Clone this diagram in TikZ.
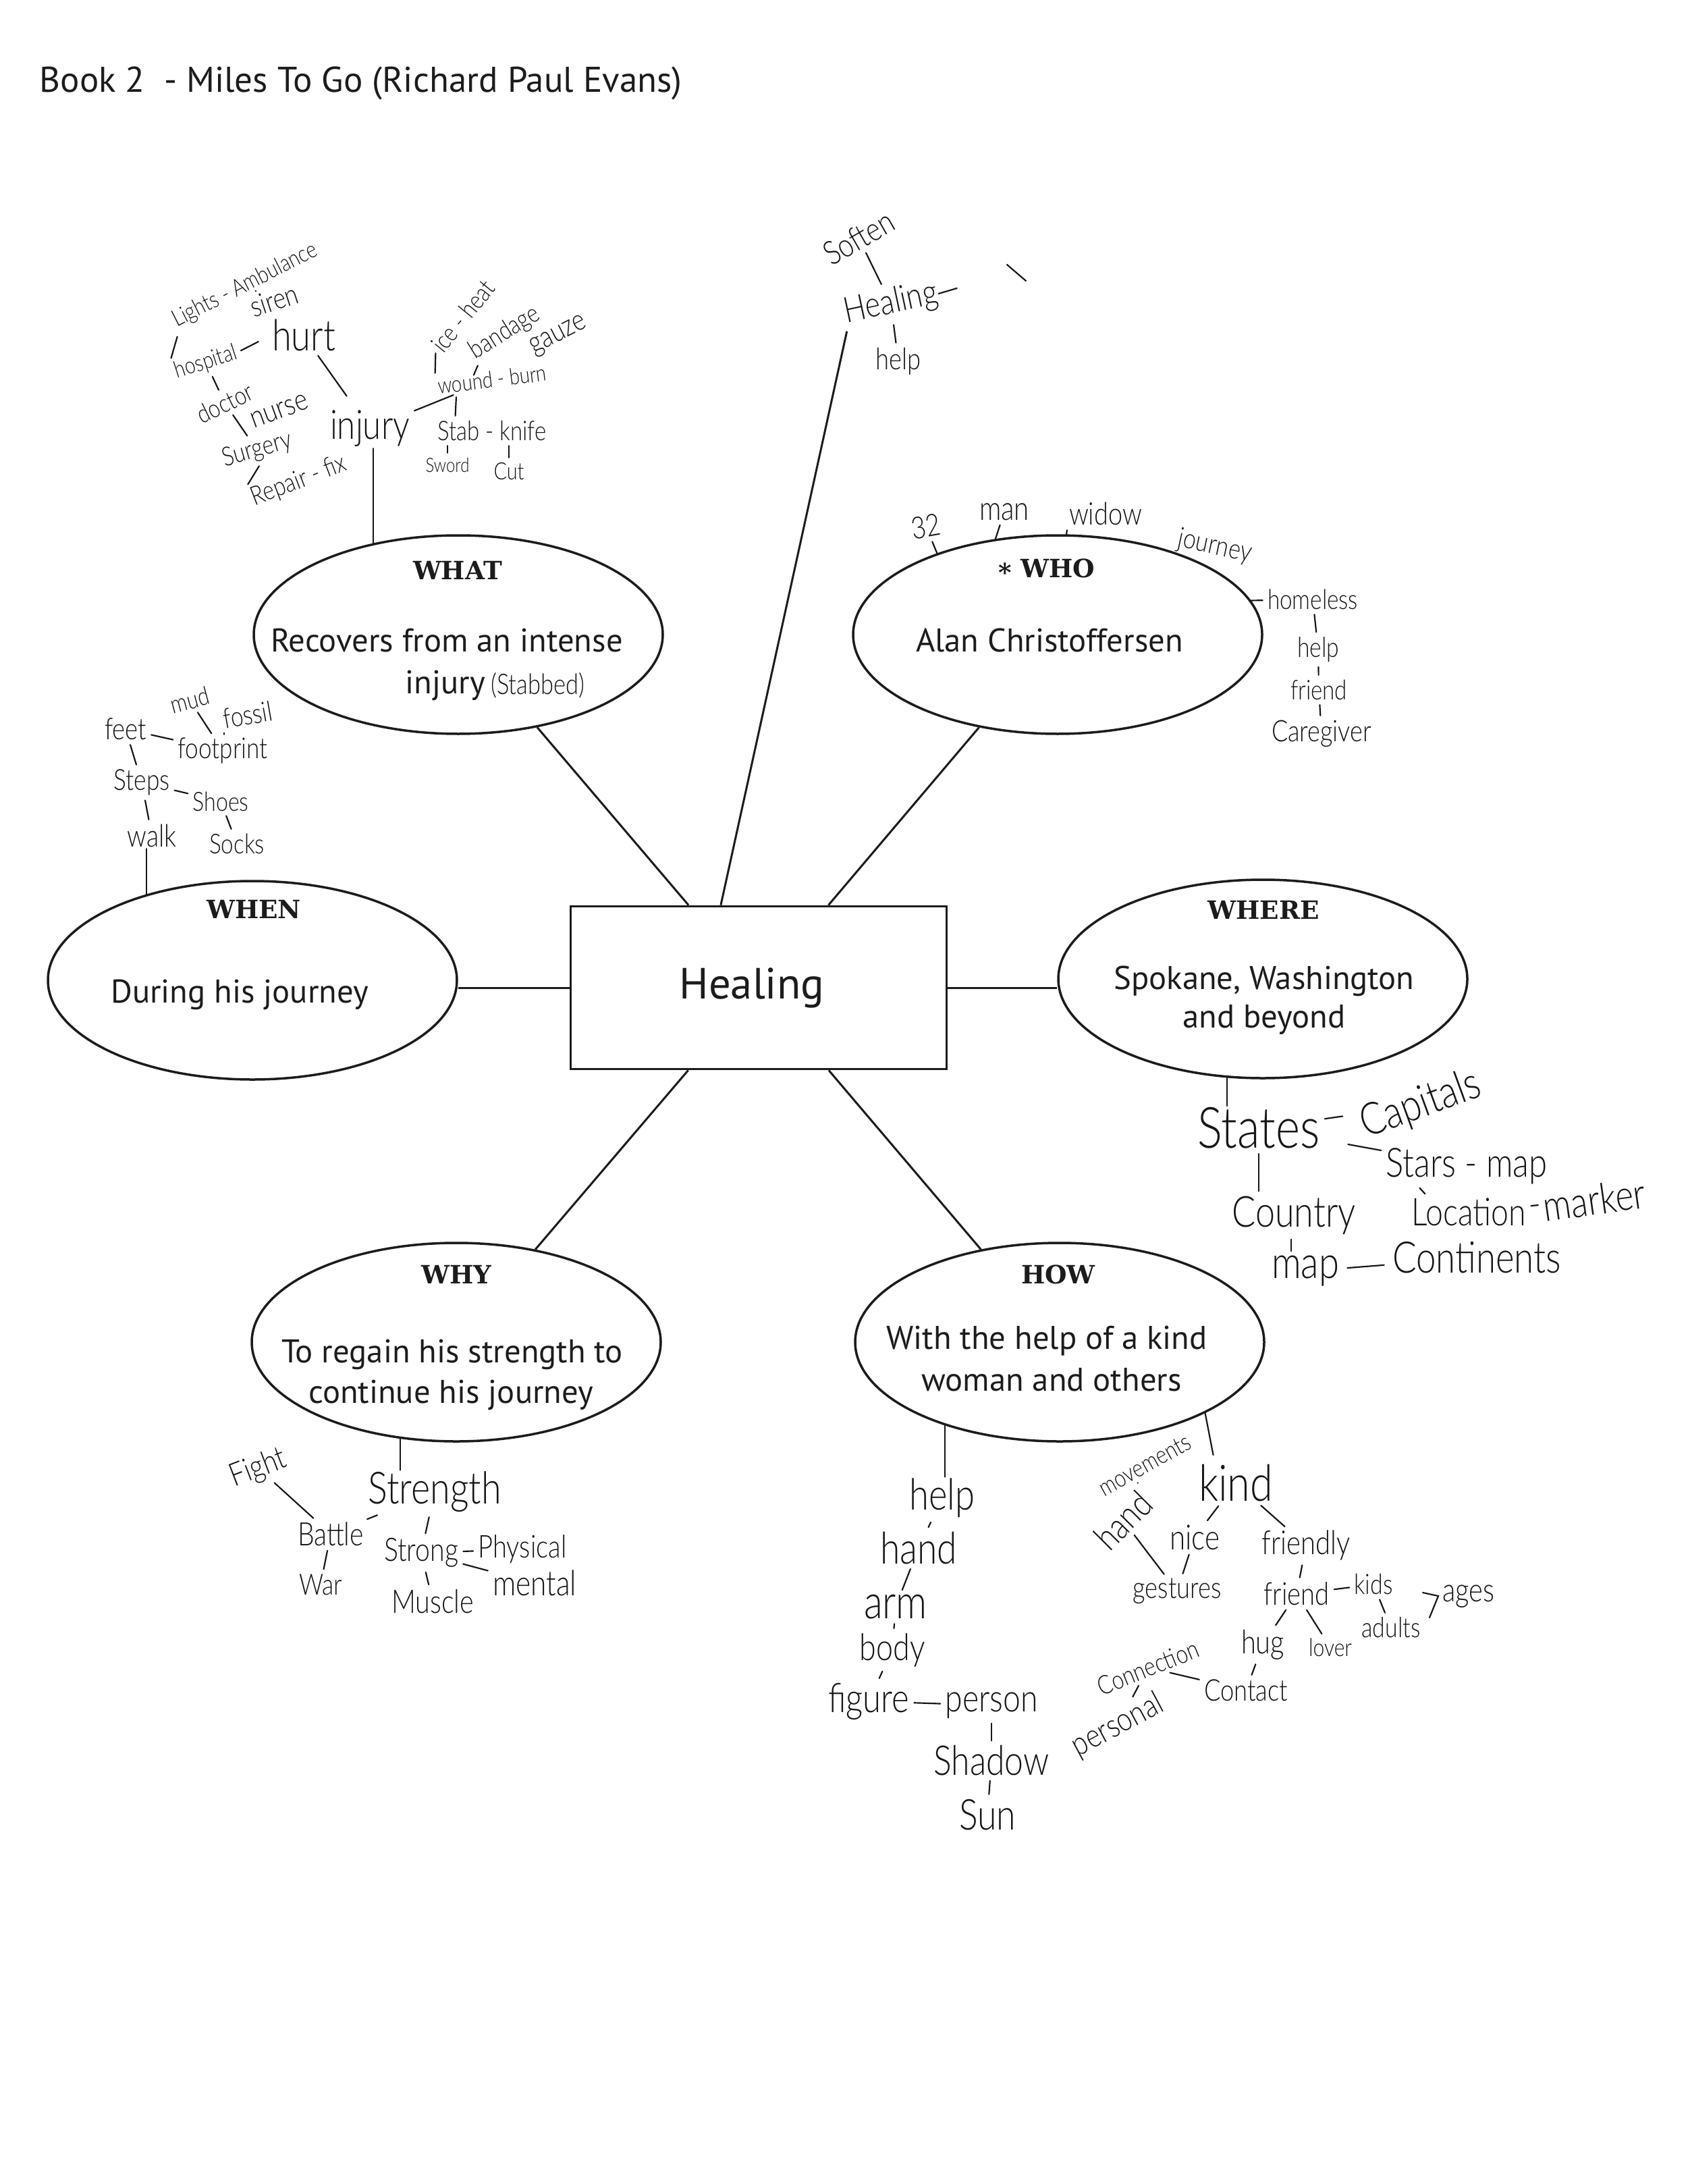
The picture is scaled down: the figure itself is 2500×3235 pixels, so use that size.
\documentclass[tikz,border=0pt]{standalone}
\usepackage{graphicx}
\usepackage{fontspec}
\setmainfont{PT Sans}
\newfontfamily\lblfont{DejaVu Serif}
\newfontfamily\hwfont{Lato Light}
\usetikzlibrary{shapes.geometric,calc}
\newlength{\pxu}\setlength{\pxu}{0.3pt}
\newcommand{\hw}[2]{\resizebox{#1\pxu}{!}{\scalebox{1}[1.22]{\hwfont #2}}}
\definecolor{ink}{HTML}{1C1C1C}
\definecolor{pen}{HTML}{161616}
\begin{document}
\begin{tikzpicture}[x=0.3pt,y=-0.3pt,
  ell/.style={ellipse, draw=ink, line width=1.05pt, minimum width=181.8pt, minimum height=88.2pt, inner sep=0pt},
  lbl/.style={font=\lblfont\bfseries\fontsize{11.2}{13}\selectfont, text=ink, inner sep=0pt},
  txt/.style={font=\fontsize{14.6}{17}\selectfont, text=ink, inner sep=0pt, anchor=base},
  ttl/.style={font=\fontsize{15.9}{19}\selectfont, text=ink, inner sep=0pt},
  hw/.style={text=pen, inner sep=0.5pt},
  conn/.style={draw=ink, line width=0.9pt},
  hwl/.style={draw=pen, line width=0.65pt, line cap=round},
  tk/.style={hwl, shorten <=1.5pt, shorten >=1.5pt},
  tkone/.style={hwl, shorten <=1.5pt}]
\useasboundingbox[fill=white] (0,0) rectangle (2500,3235);

% title
\node[ttl, anchor=base west] (title) at (58,137) {Book 2\ \ - Miles To Go (Richard Paul Evans)};

% central box
\node[draw=ink, line width=1.1pt, minimum width=167.1pt, minimum height=72.3pt, inner sep=0pt,
      font=\fontsize{19.4}{23}\selectfont, text=ink] (box) at (1124,1463) {\hspace*{-20\pxu}Healing};

% ellipses
\node[ell] (what) at (679,940) {};
\node[ell] (who) at (1567,940) {};
\node[ell] (when) at (374,1452) {};
\node[ell] (where) at (1871,1450) {};
\node[ell] (why) at (676,1988) {};
\node[ell] (how) at (1570,1988) {};

% labels
\node[lbl] (whatL) at (678,845) {WHAT};
\node[lbl] (whoL) at (1551,845) {\raisebox{-0.3ex}{*} WHO};
\node[lbl] (whenL) at (376,1347) {WHEN};
\node[lbl] (whereL) at (1872,1348) {WHERE};
\node[lbl] (whyL) at (676,1888) {WHY};
\node[lbl] (howL) at (1568,1888) {HOW};

% printed texts
\node[txt] (whatA) at (662,965) {Recovers from an intense};
\node[txt, anchor=base west] (whatB) at (600,1027) {injury};
\node[hw, anchor=west] (stabbed) at (725,1015) {\hw{139}{(Stabbed)}};
\node[txt] (whoA) at (1555,965) {Alan Christoffersen};
\node[txt] (whenA) at (355,1485) {During his journey};
\node[txt] (whereA) at (1873,1465) {Spokane, Washington};
\node[txt] (whereB) at (1873,1522) {and beyond};
\node[txt] (whyA) at (670,2018) {To regain his strength to};
\node[txt] (whyB) at (668,2078) {continue his journey};
\node[txt] (howA) at (1551,1998) {With the help of a kind};
\node[txt] (howB) at (1558,2060) {woman and others};

% ---------- handwritten words ----------
% WHAT cluster
\node[hw, rotate=27] (lights) at (363,423) {\hw{236}{Lights - Ambulance}};
\node[hw, rotate=18] (siren) at (406,445) {\hw{72}{siren}};
\node[hw, rotate=18] (hospital) at (305,537) {\hw{95}{hospital}};
\node[hw] (hurt) at (450,497) {\hw{94}{hurt}};
\node[hw, rotate=26] (doctor) at (333,597) {\hw{88}{doctor}};
\node[hw, rotate=20] (nurse) at (414,609) {\hw{88}{nurse}};
\node[hw, rotate=16] (surgery) at (381,667) {\hw{105}{Surgery}};
\node[hw, rotate=21] (repair) at (443,713) {\hw{148}{Repair - fix}};
\node[hw] (injury) at (548,635) {\hw{118}{injury}};
\node[hw, rotate=51] (iceheat) at (686,468) {\hw{124}{ice - heat}};
\node[hw, rotate=32] (bandage) at (748,493) {\hw{115}{bandage}};
\node[hw, rotate=27] (gauze) at (828,498) {\hw{90}{gauze}};
\node[hw, rotate=7] (wound) at (729,562) {\hw{162}{wound - burn}};
\node[hw] (stab) at (729,638) {\hw{161}{Stab - knife}};
\node[hw] (sword) at (663,689) {\hw{65}{Sword}};
\node[hw] (cut) at (754,698) {\hw{45}{Cut}};

% Healing cluster
\node[hw, rotate=30] (soften) at (1272,352) {\hw{112}{Soften}};
\node[hw, rotate=12] (hheal) at (1320,450) {\hw{140}{Healing}};
\node[hw] (help1) at (1331,535) {\hw{67}{help}};
\coordinate (strayA) at (1492,392);
\coordinate (strayB) at (1520,416);

% WHO cluster
\node[hw, rotate=10] (n32) at (1372,780) {\hw{43}{32}};
\node[hw] (man) at (1488,758) {\hw{74}{man}};
\node[hw] (widow) at (1638,761) {\hw{108}{widow}};
\node[hw, rotate=-12] (journey) at (1800,810) {\hw{110}{journey}};
\node[hw] (homeless) at (1945,888) {\hw{134}{homeless}};
\node[hw] (help2) at (1953,962) {\hw{62}{help}};
\node[hw] (friend2) at (1954,1022) {\hw{84}{friend}};
\node[hw] (caregiver) at (1958,1087) {\hw{148}{Caregiver}};

% WHEN cluster
\node[hw] (feet) at (186,1080) {\hw{62}{feet}};
\node[hw, rotate=15] (mud) at (281,1037) {\hw{58}{mud}};
\node[hw, rotate=10] (fossil) at (367,1059) {\hw{73}{fossil}};
\node[hw] (footprint) at (330,1112) {\hw{133}{footprint}};
\node[hw] (steps) at (210,1159) {\hw{83}{Steps}};
\node[hw] (shoes) at (327,1187) {\hw{83}{Shoes}};
\node[hw] (walk) at (225,1238) {\hw{73}{walk}};
\node[hw] (socks) at (351,1250) {\hw{82}{Socks}};

% WHERE cluster
\node[hw] (states) at (1865,1671) {\hw{181}{States}};
\node[hw, rotate=20] (capitals) at (2105,1637) {\hw{185}{Capitals}};
\node[hw] (stars) at (2173,1727) {\hw{239}{Stars - map}};
\node[hw] (location) at (2176,1795) {\hw{170}{Location}};
\node[hw, rotate=8] (marker) at (2362,1777) {\hw{152}{marker}};
\node[hw] (country) at (1917,1800) {\hw{183}{Country}};
\node[hw] (map) at (1934,1883) {\hw{100}{map}};
\node[hw] (continents) at (2188,1863) {\hw{250}{Continents}};

% WHY cluster
\node[hw] (strength) at (644,2210) {\hw{197}{Strength}};
\node[hw, rotate=21] (fight) at (383,2175) {\hw{85}{Fight}};
\node[hw] (battle) at (490,2272) {\hw{98}{Battle}};
\node[hw] (strong) at (624,2300) {\hw{110}{Strong}};
\node[hw] (physical) at (774,2295) {\hw{131}{Physical}};
\node[hw] (war) at (475,2347) {\hw{64}{War}};
\node[hw] (muscle) at (641,2372) {\hw{122}{Muscle}};
\node[hw] (mental) at (792,2345) {\hw{124}{mental}};

% HOW cluster
\node[hw] (help3) at (1396,2219) {\hw{97}{help}};
\node[hw] (hand1) at (1361,2293) {\hw{114}{hand}};
\node[hw] (arm) at (1327,2380) {\hw{94}{arm}};
\node[hw] (body) at (1322,2444) {\hw{97}{body}};
\node[hw] (figure) at (1287,2520) {\hw{120}{figure}};
\node[hw] (person) at (1469,2526) {\hw{137}{person}};
\node[hw] (shadow) at (1469,2608) {\hw{171}{Shadow}};
\node[hw] (sun) at (1463,2688) {\hw{84}{Sun}};
\node[hw, rotate=29] (movements) at (1696,2170) {\hw{150}{movements}};
\node[hw, rotate=45] (hand2) at (1664,2252) {\hw{95}{hand}};
\node[hw] (kind) at (1831,2197) {\hw{110}{kind}};
\node[hw] (nice) at (1770,2277) {\hw{74}{nice}};
\node[hw] (friendly) at (1935,2289) {\hw{131}{friendly}};
\node[hw] (gestures) at (1744,2357) {\hw{131}{gestures}};
\node[hw] (friend3) at (1921,2361) {\hw{97}{friend}};
\node[hw] (kids) at (2035,2347) {\hw{57}{kids}};
\node[hw] (adults) at (2061,2411) {\hw{87}{adults}};
\node[hw] (ages) at (2176,2365) {\hw{77}{ages}};
\node[hw] (hug) at (1871,2436) {\hw{64}{hug}};
\node[hw] (lover) at (1971,2440) {\hw{64}{lover}};
\node[hw] (contact) at (1846,2504) {\hw{124}{Contact}};
\node[hw, rotate=22] (connection) at (1701,2470) {\hw{158}{Connection}};
\node[hw, rotate=28] (personal) at (1656,2556) {\hw{146}{personal}};
\coordinate (chevA) at (2108,2359);
\coordinate (chevB) at (2131,2364);
\coordinate (chevC) at (2118,2396);

% ---------- main connectors ----------
\draw[conn] (what) -- (box);
\draw[conn] (who) -- (box);
\draw[conn] (why) -- (box);
\draw[conn] (how) -- (box);
\draw[conn] (box.west) -- (box.west -| when.east);
\draw[conn] (box.east) -- (box.east -| where.west);
\draw[conn] ($(box.north west)!0.4!(box.north east)$) -- (hheal.south west);

% ---------- handwritten connectors ----------
% WHAT
\draw[hwl] (what.133) -- (what.133 |- injury.south);
\draw[tk] (lights.south west) -- (hospital.north west);
\draw[tk] (lights) -- (siren);
\draw[tk, shorten >=6pt] (hospital.east) -- (hurt.west);
\draw[tk] (hospital) -- (doctor);
\draw[tk, shorten >=7pt] (hurt) -- (injury);
\draw[tk] (doctor) -- (surgery);
\draw[tk] (surgery.south) -- (repair.north west);
\draw[tk] (injury) -- (wound);
\draw[tk] (iceheat.west) -- (wound.north west);
\draw[hwl] (bandage.south west) -- ++(-6,14);
\draw[tk] ($(wound.south west)!.17!(wound.south east)$) -- ($(stab.north west)!.17!(stab.north east)$);
\draw[tk] (sword.north) -- (sword.north |- stab.south);
\draw[tk] (cut.north) -- (cut.north |- stab.south);

% Healing
\draw[tk] (soften) -- (hheal);
\draw[tk] (hheal) -- (help1);
\draw[hwl] (hheal.east) -- ++(27,-8);
\draw[hwl] (strayA) -- (strayB);

% WHO
\draw[tkone] (n32) -- (who.146);
\draw[tkone] (man) -- (who.123);
\draw[tkone] (widow.south west) -- (who.85);
\draw[tkone] (homeless) -- (who.10);
\draw[tk] (homeless) -- (help2);
\draw[tk] (help2) -- (friend2);
\draw[tk] (friend2) -- (caregiver);

% WHEN
\draw[hwl] (when.141.6) -- (when.141.6 |- walk.south);
\draw[tk] (feet) -- (footprint);
\draw[tk] (mud) -- (footprint);
\draw[tk] (fossil.south west) -- (fossil.south west |- footprint.north);
\draw[tk] (feet) -- (steps);
\draw[tk] (steps) -- (shoes);
\draw[tk] (steps) -- (walk);
\draw[tk] (shoes) -- (socks);

% WHERE
\draw[hwl] (where.250) -- (where.250 |- states.north);
\draw[tk, shorten >=6pt] (states) -- (capitals);
\draw[tk, shorten <=12pt] (states) -- (stars);
\draw[tk] ($(stars.south west)!.2!(stars.south east)$) -- ($(location.north west)!.15!(location.north east)$);
\draw[tk] (location) -- (marker);
\draw[tk] (states.south) -- (states.south |- country.north);
\coordinate (mapTop) at ($(map.north west)!.3!(map.north east)$);
\draw[tk] (mapTop) -- (mapTop |- country.south);
\draw[tk, shorten <=3pt, shorten >=3pt] (map) -- (continents);

% WHY
\draw[hwl] (why.240) -- (why.240 |- strength.north);
\draw[tk] (fight) -- (battle);
\draw[tk] (battle) -- (strength);
\draw[tk] (strength) -- (strong);
\draw[tk] (strong) -- (physical);
\draw[tk] (battle) -- (war);
\draw[tk] (strong) -- (muscle);
\draw[tk] (strong) -- (mental);

% HOW
\draw[hwl] (how.216.5) -- (how.216.5 |- help3.north);
\draw[hwl] (how.-26.2) -- ++(12,62);
\draw[tk] (help3) -- (hand1);
\draw[tk] (hand1) -- (arm);
\draw[tk] (arm) -- (body);
\draw[tk] (body) -- (figure);
\draw[tk] (figure) -- (person);
\draw[tk] (person) -- (shadow);
\draw[tk] (shadow) -- (sun);
\draw[tk] (movements) -- (hand2);
\draw[tk] (hand2) -- (gestures);
\draw[tk] (nice) -- (gestures);
\draw[tk] (kind) -- (nice);
\draw[tk] (kind) -- (friendly);
\draw[tk] (friendly) -- (friend3);
\draw[tk] (friend3) -- (kids);
\draw[tk] (kids) -- (adults);
\draw[tk] (friend3) -- (hug);
\draw[tk] (friend3) -- (lover);
\draw[tk] (hug) -- (contact);
\draw[tk] (connection) -- (contact);
\draw[tk] (connection) -- (personal);
\draw[hwl] (chevA) -- (chevB) -- (chevC);
\end{tikzpicture}
\end{document}
